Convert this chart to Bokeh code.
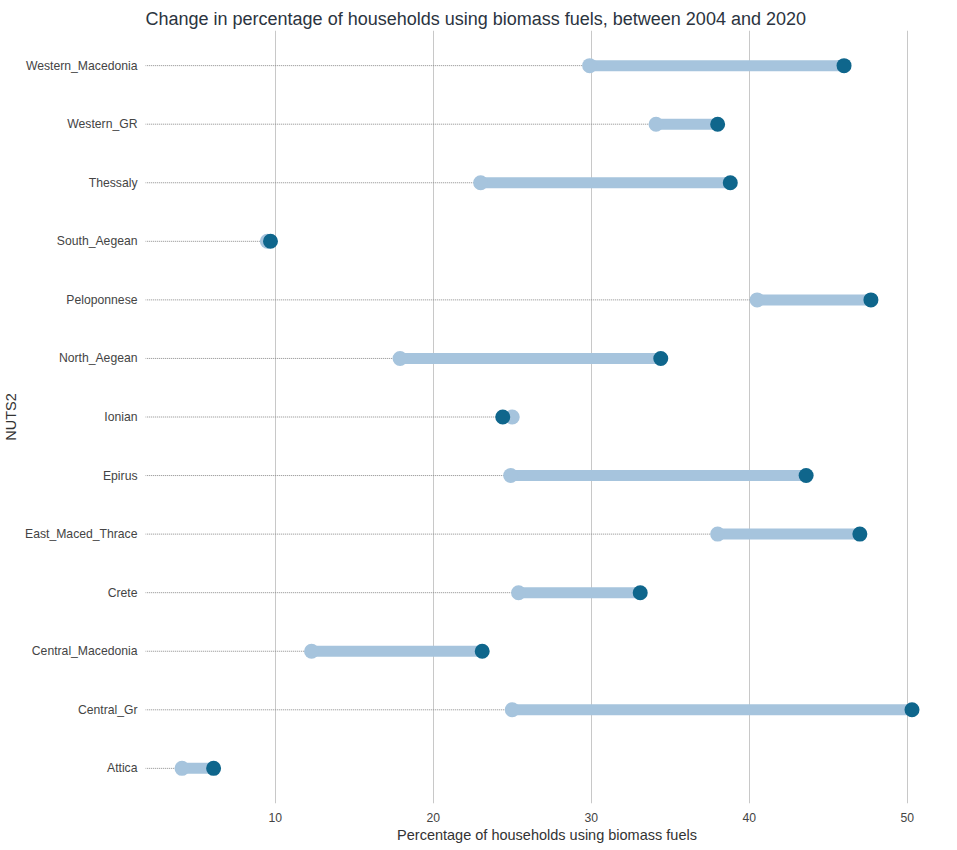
from bokeh.plotting import figure
from bokeh.models import Range1d, FixedTicker
from bokeh.embed import file_html
from bokeh.resources import INLINE

regions = ["Attica", "Central_Gr", "Central_Macedonia", "Crete", "East_Maced_Thrace",
           "Epirus", "Ionian", "North_Aegean", "Peloponnese", "South_Aegean",
           "Thessaly", "Western_GR", "Western_Macedonia"]
pct_2004 = [4.1, 25.0, 12.3, 25.4, 38.0, 24.9, 25.0, 17.9, 40.5, 9.5, 23.0, 34.1, 29.9]
pct_2020 = [6.1, 50.3, 23.1, 33.1, 47.0, 43.6, 24.4, 34.4, 47.7, 9.7, 38.8, 38.0, 46.0]
x_ticks = [10, 20, 30, 40, 50]

ypos = list(range(1, len(regions) + 1))
lo = [min(a, b) for a, b in zip(pct_2004, pct_2020)]

span = max(pct_2020 + pct_2004) - min(lo)
xmin = min(lo) - 0.05 * span
xmax = max(pct_2020 + pct_2004) + 0.05 * span

p = figure(frame_width=803, frame_height=773, output_backend="svg", toolbar_location=None,
           x_range=Range1d(xmin, xmax), y_range=Range1d(0.4, len(regions) + 0.6),
           min_border_left=139, min_border_right=0, min_border_top=30, min_border_bottom=38,
           title="Change in percentage of households using biomass fuels, between 2004 and 2020")

p.title.text_font = "Liberation Sans"
p.title.text_font_size = "18px"
p.title.text_font_style = "normal"
p.title.text_color = "#2b3440"
p.title.align = "left"
p.title.offset = 0
p.title.standoff = 4

p.outline_line_color = None
p.background_fill_color = "white"
p.border_fill_color = "white"

# dotted guides
p.segment(x0=[0] * len(regions), y0=ypos, x1=lo, y1=ypos,
          line_color="#8a8a8a", line_width=1, line_dash="1 1")
# connecting bars
p.segment(x0=pct_2004, y0=ypos, x1=pct_2020, y1=ypos,
          line_color="#a6c4dd", line_width=11)
p.scatter(pct_2004, ypos, size=15, fill_color="#a6c4dd", line_color=None)
p.scatter(pct_2020, ypos, size=15, fill_color="#0f668c", line_color=None)

p.xaxis.ticker = FixedTicker(ticks=x_ticks)
p.yaxis.ticker = FixedTicker(ticks=ypos)
p.yaxis.major_label_overrides = {y: r for y, r in zip(ypos, regions)}

for ax in (p.xaxis[0], p.yaxis[0]):
    ax.axis_line_color = None
    ax.major_tick_line_color = None
    ax.minor_tick_line_color = None
    ax.major_tick_out = 0
    ax.major_tick_in = 0
    ax.minor_tick_out = 0
    ax.minor_tick_in = 0
    ax.major_label_text_font = "Liberation Sans"
    ax.major_label_text_font_size = "12.2px"
    ax.major_label_text_color = "#444444"
    ax.axis_label_text_font = "Liberation Sans"
    ax.axis_label_text_font_size = "14.5px"
    ax.axis_label_text_font_style = "normal"
    ax.axis_label_text_color = "#333333"

p.xaxis.major_label_standoff = 9
p.yaxis.major_label_standoff = 8
p.xaxis.axis_label = "Percentage of households using biomass fuels"
p.yaxis.axis_label = "NUTS2"
p.xaxis.axis_label_standoff = 2
p.yaxis.axis_label_standoff = 3

p.xgrid.ticker = FixedTicker(ticks=x_ticks)
p.xgrid.grid_line_color = "#c8c8c8"
p.xgrid.grid_line_width = 1
p.ygrid.grid_line_color = None

open("out.html", "w").write(file_html(p, INLINE))
